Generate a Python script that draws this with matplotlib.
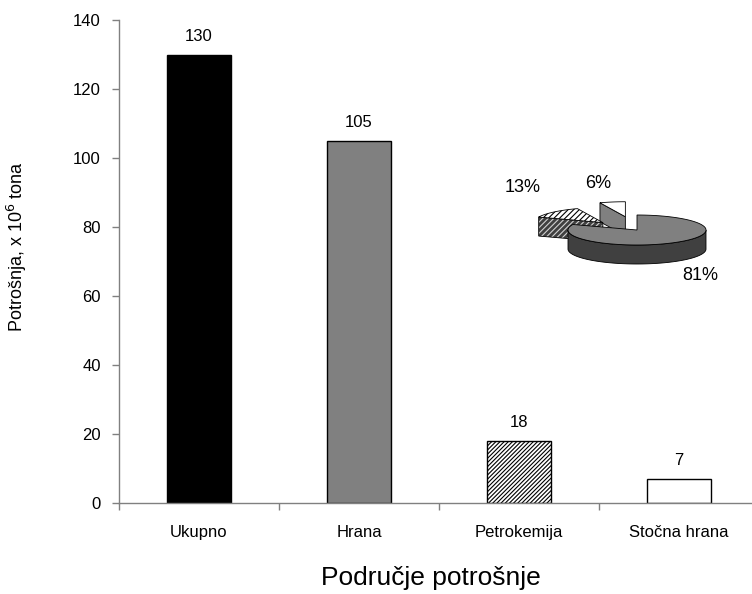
import numpy as np
import matplotlib.pyplot as plt
from matplotlib.patches import Polygon

plt.rcParams['font.family'] = ['Liberation Sans', 'DejaVu Sans']
plt.rcParams['hatch.linewidth'] = 0.8

categories = ['Ukupno', 'Hrana', 'Petrokemija', 'Stočna hrana']
consumption = [130, 105, 18, 7]
bar_colors = ['black', '#808080', 'white', 'white']
bar_hatches = [None, None, '////////', None]

# share of each use in total consumption (inset pie)
shares = [81, 13, 6]
share_pos = [(700, 275), (523, 188), (598, 184)]
explode = [0.0, 0.7, 0.9]
top_colors = ['#808080', 'white', 'white']
side_colors = ['#404040', '#404040', '#808080']
pie_hatches = [None, '//////', None]
side_hatch_colors = [None, '#d0d0d0', None]

W, H = 752, 594
fig = plt.figure(figsize=(W / 100, H / 100), dpi=100)
ax = fig.add_axes([119 / W, 91 / H, 640 / W, 483 / H])

x = np.arange(len(categories))
bars = ax.bar(x, consumption, width=0.4, color=bar_colors,
              edgecolor='black', linewidth=1)
for b, h in zip(bars, bar_hatches):
    if h:
        b.set_hatch(h)
for xi, v in zip(x, consumption):
    ax.annotate(str(v), (xi, v), xytext=(0, 13), textcoords='offset points',
                ha='center', va='center', fontsize=12)

ax.set_xlim(-0.5, len(categories) - 0.5)
ax.set_ylim(0, 140)
ax.set_yticks(np.arange(0, 141, 20))
ax.set_xticks(x)
ax.set_xticklabels(categories, fontsize=12)
ax.set_xticks(np.arange(-0.5, len(categories)), minor=True)
ax.tick_params(axis='x', which='major', length=0, pad=16)
ax.tick_params(axis='x', which='minor', length=5, color='#808080', width=1)
ax.tick_params(axis='y', length=5, color='#808080', width=1, labelsize=12, pad=8)
for s in ['top', 'right']:
    ax.spines[s].set_visible(False)
for s in ['left', 'bottom']:
    ax.spines[s].set_color('#808080')
    ax.spines[s].set_linewidth(1)

fig.text(17 / W, 1 - 247 / H, 'Potrošnja, x 10$^6$ tona', rotation=90,
         ha='center', va='center', fontsize=13)
fig.text(431 / W, 1 - 578 / H, 'Područje potrošnje', ha='center',
         va='center', fontsize=19)

# 3D-looking pie drawn in pixel coordinates on an overlay axes
pax = fig.add_axes([0, 0, 1, 1], facecolor='none')
pax.set_xlim(0, W)
pax.set_ylim(H, 0)
pax.axis('off')

cx, cy, rx, ry, depth = 637, 230, 69, 15, 19


def pt(t, ox, oy, dz=0):
    r = np.radians(t)
    return (cx + ox + rx * np.cos(r), cy + oy - ry * np.sin(r) + dz)


def side_face(poly, i):
    pax.add_patch(Polygon(poly, facecolor=side_colors[i], edgecolor='none'))
    if pie_hatches[i]:
        pax.add_patch(Polygon(poly, facecolor='none', linewidth=0,
                              edgecolor=side_hatch_colors[i],
                              hatch=pie_hatches[i]))
    pax.add_patch(Polygon(poly, facecolor='none', edgecolor='black',
                          linewidth=0.6))


bounds = 90 - 3.6 * np.concatenate([[0], np.cumsum(shares)])
slices = []
for i in range(len(shares)):
    hi, lo = bounds[i], bounds[i + 1]
    mid = np.radians((hi + lo) / 2)
    ox = explode[i] * rx * np.cos(mid)
    oy = -explode[i] * ry * np.sin(mid)
    slices.append((i, lo, hi, ox, oy))

for i, lo, hi, ox, oy in [slices[2], slices[1], slices[0]]:
    tip = (cx + ox, cy + oy)
    tip_b = (cx + ox, cy + oy + depth)
    # radial faces turned to the viewer
    if np.cos(np.radians(hi)) < -1e-6:
        side_face([tip, pt(hi, ox, oy), pt(hi, ox, oy, depth), tip_b], i)
    if np.cos(np.radians(lo)) > 1e-6:
        side_face([tip, pt(lo, ox, oy), pt(lo, ox, oy, depth), tip_b], i)
    # outer rim on the front half
    ts = np.linspace(lo, hi, 200)
    front = ts[np.sin(np.radians(ts)) <= 0]
    if len(front) > 1:
        upper = [pt(t, ox, oy) for t in front]
        lower = [pt(t, ox, oy, depth) for t in front[::-1]]
        side_face(upper + lower, i)
    top = [tip] + [pt(t, ox, oy) for t in ts]
    pax.add_patch(Polygon(top, facecolor=top_colors[i], edgecolor='black',
                          linewidth=0.6, hatch=pie_hatches[i]))

for s, (px, py) in zip(shares, share_pos):
    pax.text(px, py, f'{s}%', ha='center', va='center', fontsize=13)

fig.savefig('out.png', dpi=100)
